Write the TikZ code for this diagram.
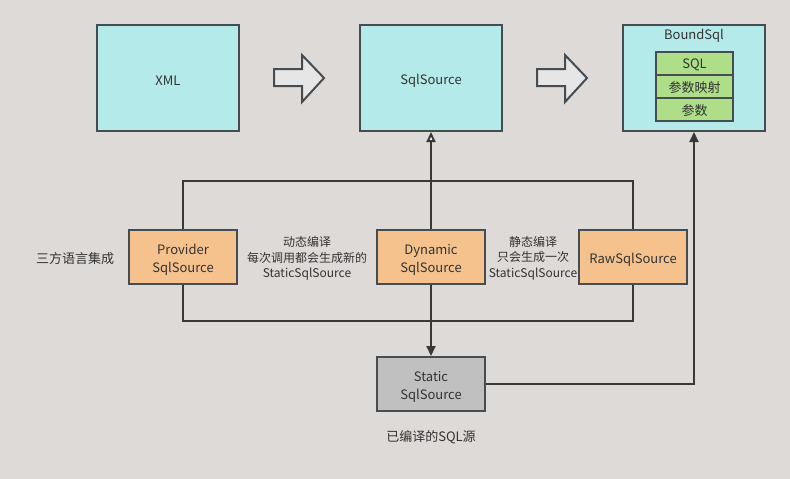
\documentclass[tikz,border=0pt]{standalone}
\usepackage{fontspec}
\setmainfont{Noto Sans CJK SC}
\usetikzlibrary{arrows.meta}
\definecolor{bg}{HTML}{DEDAD8}
\definecolor{cyanfill}{HTML}{B5EAEA}
\definecolor{orangefill}{HTML}{F5C28E}
\definecolor{greenfill}{HTML}{AEDF88}
\definecolor{grayfill}{HTML}{C0C0C0}
\definecolor{arrowfill}{HTML}{E6E6E6}
\definecolor{edge}{HTML}{454C52}
\definecolor{linec}{HTML}{383838}
\definecolor{txt}{HTML}{333333}
\tikzset{
  box/.style={draw=edge, line width=2pt, minimum width=142pt, minimum height=106pt, inner sep=0pt},
  bt/.style={text=txt, font=\fontsize{13}{18}\selectfont, align=center, inner sep=0pt, yshift=-2.5pt},
  bigbox/.style={box, fill=cyanfill},
  subbox/.style={box, fill=orangefill, minimum width=108pt, minimum height=54pt},
  statbox/.style={box, fill=grayfill, minimum width=108pt, minimum height=54pt},
  cell/.style={box, fill=greenfill, minimum width=77pt, minimum height=23pt},
  lbl/.style={text=txt, font=\fontsize{12}{15.5}\selectfont, align=center, inner sep=0pt},
  conn/.style={draw=linec, line width=2pt},
  blockarrow/.style={draw=edge, line width=2pt, fill=arrowfill, line join=miter},
}
\begin{document}
\begin{tikzpicture}[x=1pt,y=-1pt]
\useasboundingbox[fill=bg] (0,0) rectangle (790,479);
% top row
\node[bigbox, label={[bt]center:XML}] (xml) at (168,78) {};
\node[bigbox, label={[bt]center:SqlSource}] (sql) at (431,78) {};
\node[bigbox] (bound) at (694,78) {};
\node[lbl, font=\fontsize{13}{16}\selectfont] (boundt) at (694,36) {BoundSql};
\node[cell, label={[bt, yshift=1pt]center:SQL}] (c1) at (694.5,63.5) {};
\node[cell, label={[bt, yshift=1pt]center:参数映射}] (c2) at (694.5,86.5) {};
\node[cell, label={[bt, yshift=1pt]center:参数}] (c3) at (694.5,109.5) {};
% block arrows
\draw[blockarrow] (274,69) -- (302,69) -- (302,55) -- (324,78) -- (302,102) -- (302,86) -- (274,86) -- cycle;
\draw[blockarrow] (537,69) -- (565,69) -- (565,55) -- (587,78) -- (565,102) -- (565,86) -- (537,86) -- cycle;
% middle row
\node[subbox, label={[bt]center:{Provider\\SqlSource}}] (prov) at (183,257) {};
\node[subbox, label={[bt]center:{Dynamic\\SqlSource}}] (dyn) at (431,257) {};
\node[subbox, label={[bt]center:RawSqlSource}] (raw) at (633,257) {};
\node[statbox, label={[bt]center:{Static\\SqlSource}}] (stat) at (431,384) {};
% frame
\coordinate (ftl) at (183,181);
\coordinate (fbl) at (183,321);
\draw[conn] (prov.north) -- (ftl) -| (raw.north);
\draw[conn] (prov.south) -- (fbl) -| (raw.south);
% connectors
\draw[conn, -{Triangle[open, length=10pt, width=9pt, fill=white]}] (dyn.north) -- (sql.south);
\draw[conn, -{Triangle[length=10pt, width=9pt]}] (dyn.south) -- (stat.north);
\draw[conn, -{Triangle[length=10pt, width=9pt]}] (stat.east) -| (bound.south);
% labels
\node[lbl, font=\fontsize{13}{16}\selectfont] (l1) at (75,259) {三方语言集成};
\node[lbl] (l2) at (307,258.5) {动态编译\\每次调用都会生成新的\\StaticSqlSource};
\node[lbl] (l3) at (533,258) {静态编译\\只会生成一次\\StaticSqlSource};
\node[lbl, font=\fontsize{13}{16}\selectfont] (l4) at (431,437) {已编译的SQL源};
\end{tikzpicture}
\end{document}
